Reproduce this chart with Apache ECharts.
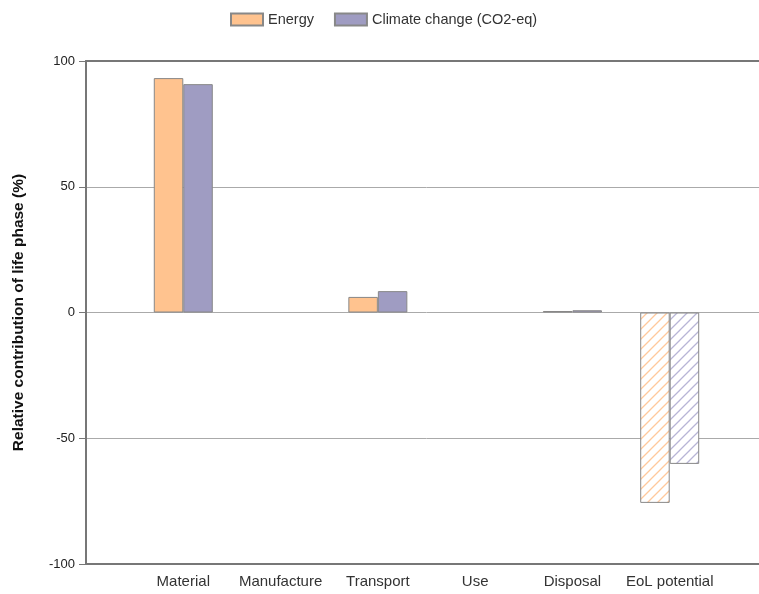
<!DOCTYPE html>
<html><head><meta charset="utf-8">
<script src="https://cdn.jsdelivr.net/npm/echarts@6/dist/echarts.min.js"></script>
<style>html,body{margin:0;padding:0;background:#fff;overflow:hidden}#c{width:770px;height:594px}</style>
</head><body><div id="c"></div>
<script>
const categories = ['Material','Manufacture','Transport','Use','Disposal','EoL potential'];
const energy = [93.2, 0, 6.2, 0, 0.6, -75.7];
const climate = [90.8, 0, 8.5, 0, 0.9, -60.2];
const yTicks = [-100, -50, 0, 50, 100];
const hatchedCategory = 'EoL potential';

function hatch(color){
  const s = 10, cv = document.createElement('canvas');
  cv.width = s; cv.height = s;
  const g = cv.getContext('2d');
  g.fillStyle = '#fff'; g.fillRect(0,0,s,s);
  g.strokeStyle = color; g.lineWidth = 1.3;
  g.beginPath();
  g.moveTo(0,s); g.lineTo(s,0);
  g.moveTo(-s/2,s/2); g.lineTo(s/2,-s/2);
  g.moveTo(s/2,s*1.5); g.lineTo(s*1.5,s/2);
  g.stroke();
  return {image: cv, repeat: 'repeat'};
}
const axisCats = [''].concat(categories, ['']);
function build(vals, hatchColor){
  return ['-'].concat(vals.map((v,i)=> v === 0 ? '-' :
    (categories[i]===hatchedCategory ? {value:v, itemStyle:{color:hatch(hatchColor)}} : v)), ['-']);
}
const font = 'Liberation Sans, Arial, sans-serif';
const chart = echarts.init(document.getElementById('c'));
chart.setOption({
  animation:false,
  legend:{top:7,left:225,itemWidth:32,itemHeight:12,itemGap:20,icon:'rect',
    textStyle:{fontFamily:font,fontSize:14.5,color:'#333'}},
  grid:{left:86,top:61,bottom:30,right:0},
  xAxis:[{type:'category',data:axisCats,boundaryGap:false,position:'bottom',
    axisLine:{onZero:false,lineStyle:{color:'#777',width:2}},axisTick:{show:false},
    axisLabel:{fontFamily:font,fontSize:15,color:'#333',margin:10,interval:0},splitLine:{show:false}},
   {type:'category',data:axisCats,boundaryGap:false,position:'top',
    axisLine:{onZero:false,lineStyle:{color:'#777',width:2}},axisTick:{show:false},axisLabel:{show:false}}],
  yAxis:{type:'value',min:yTicks[0],max:yTicks[yTicks.length-1],interval:50,
    name:'Relative contribution of life phase (%)',nameLocation:'middle',nameGap:59,
    nameTextStyle:{fontFamily:font,fontSize:15.5,fontWeight:'bold',color:'#111'},
    axisLine:{show:true,lineStyle:{color:'#777',width:2}},
    axisTick:{show:true,length:7,lineStyle:{color:'#777'}},
    axisLabel:{fontFamily:font,fontSize:13,color:'#222',margin:11},
    splitLine:{lineStyle:{color:'#aaa',width:1}}},
  series:[
    {name:'Energy',type:'bar',data:build(energy,'#FFC99C'),barWidth:29.5,barGap:'0%',
     itemStyle:{color:'#FFC38F',borderColor:'#888',borderWidth:1}},
    {name:'Climate change (CO2-eq)',type:'bar',data:build(climate,'#B8B5D6'),barWidth:29.5,barGap:'0%',
     itemStyle:{color:'#9F9CC2',borderColor:'#888',borderWidth:1}}
  ]
});
</script></body></html>
